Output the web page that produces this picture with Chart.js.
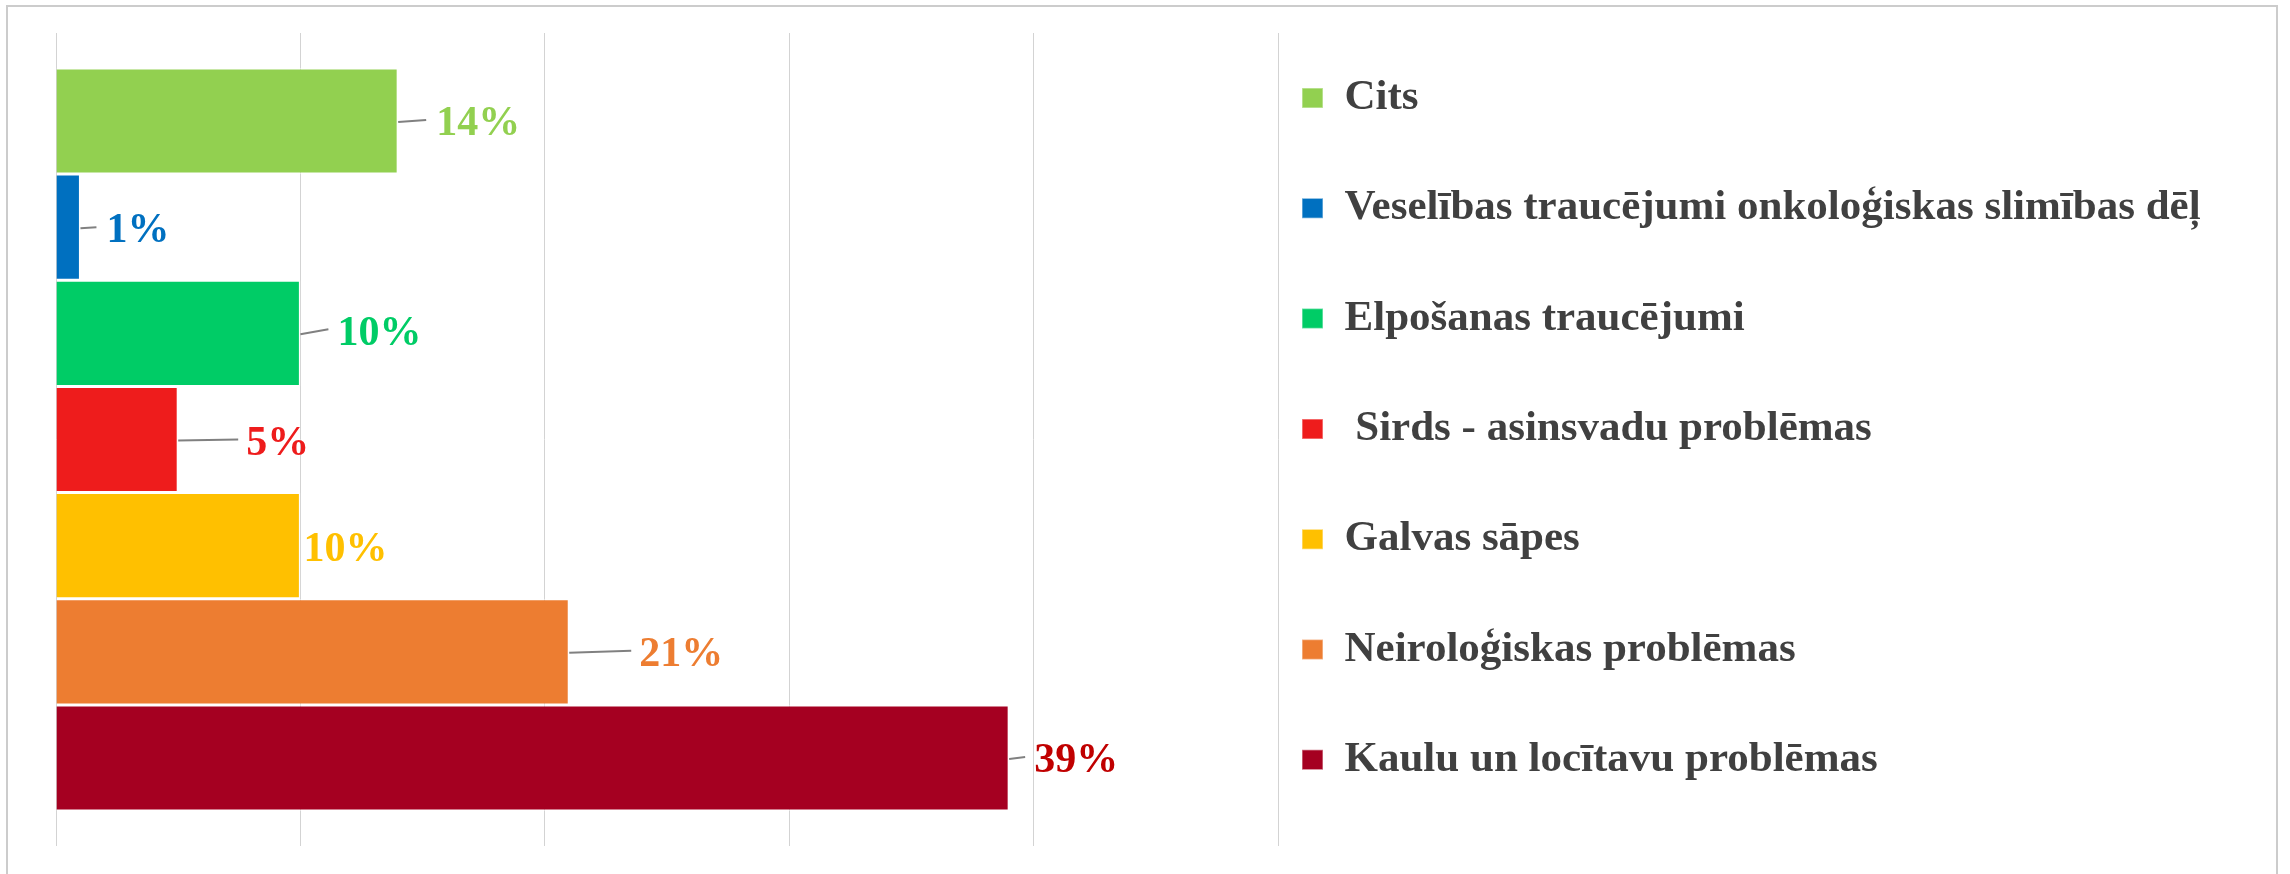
<!DOCTYPE html>
<html>
<head>
<meta charset="utf-8">
<style>
  html, body { margin: 0; padding: 0; background: #ffffff; }
  #wrap { width: 2290px; height: 874px; position: relative; }
  canvas { display: block; }
</style>
<script src="https://cdn.jsdelivr.net/npm/chart.js@4/dist/chart.umd.min.js"></script>
</head>
<body>
<div id="wrap"><canvas id="c" width="2290" height="874"></canvas></div>
<script>
// ---- data ----
const categories = [
  'Cits',
  'Veselības traucējumi onkoloģiskas slimības dēļ',
  'Elpošanas traucējumi',
  ' Sirds - asinsvadu problēmas',
  'Galvas sāpes',
  'Neiroloģiskas problēmas',
  'Kaulu un locītavu problēmas'
];
const values = [14, 1, 10, 5, 10, 21, 39];
const valueLabels = ['14%', '1%', '10%', '5%', '10%', '21%', '39%'];
const axisTicks = [0, 10, 20, 30, 40, 50];

// ---- styles ----
const barColors = ['#92d050', '#0070c0', '#00cc66', '#ee1c1c', '#ffc000', '#ed7d31', '#a50021'];
const labelColors = ['#92d050', '#0070c0', '#00cc66', '#ee1c1c', '#ffc000', '#ed7d31', '#c00000'];
const leaderLengths = [28, 16, 28, 60, 0, 62, 16];
const labelGaps = [10, 10, 9, 8, 3, 8, 9];
const labelDy = [0, 1, -3, 1, 1, 0, 0];

const FONT_FAMILY = "'Liberation Serif', 'Times New Roman', serif";
const LEGEND_SIZE = 43;
const LEGEND_PAD = 24;
const BOX_W = 21;
const PLOT_RIGHT = 1278;

// measure the longest legend text to place the legend
const mctx = document.createElement('canvas').getContext('2d');
mctx.font = 'bold ' + LEGEND_SIZE + 'px ' + FONT_FAMILY;
let maxText = 0;
categories.forEach(t => { maxText = Math.max(maxText, mctx.measureText(t).width); });
const legendWidth = LEGEND_PAD + BOX_W + LEGEND_SIZE / 2 + maxText + 10;
const padRight = Math.max(0, 2290 - PLOT_RIGHT - legendWidth);

const datasets = categories.map((name, i) => ({
  label: name,
  data: [values[i]],
  backgroundColor: barColors[i],
  borderColor: 'rgba(255,255,255,0.45)',
  borderWidth: 1.5,
  categoryPercentage: 0.914,
  barPercentage: 1.0
}));

const framePlugin = {
  id: 'frame',
  beforeDraw(chart) {
    const ctx = chart.ctx;
    ctx.save();
    ctx.fillStyle = '#ffffff';
    ctx.fillRect(0, 0, chart.width, chart.height);
    ctx.strokeStyle = '#cccccc';
    ctx.lineWidth = 2;
    ctx.beginPath();
    ctx.moveTo(7, 880);
    ctx.lineTo(7, 6);
    ctx.lineTo(2277, 6);
    ctx.lineTo(2277, 880);
    ctx.stroke();
    ctx.restore();
  }
};

const valueLabelPlugin = {
  id: 'valueLabels',
  afterDatasetsDraw(chart) {
    const ctx = chart.ctx;
    ctx.save();
    chart.data.datasets.forEach((ds, i) => {
      const meta = chart.getDatasetMeta(i);
      const el = meta.data[0];
      if (!el) return;
      const x0 = el.x;
      const cy = el.y + labelDy[i];
      const len = leaderLengths[i];
      if (len > 0) {
        ctx.strokeStyle = '#808080';
        ctx.lineWidth = 2;
        ctx.beginPath();
        ctx.moveTo(x0, el.y + 1);
        ctx.lineTo(x0 + len, cy - 1);
        ctx.stroke();
      }
      ctx.font = 'bold 42px ' + FONT_FAMILY;
      ctx.fillStyle = labelColors[i];
      ctx.textAlign = 'left';
      ctx.textBaseline = 'alphabetic';
      ctx.fillText(valueLabels[i], x0 + len + labelGaps[i], cy + 0.338 * 42);
    });
    ctx.restore();
  }
};

Chart.defaults.font.family = FONT_FAMILY;

new Chart(document.getElementById('c'), {
  type: 'bar',
  data: { labels: [''], datasets },
  options: {
    indexAxis: 'y',
    responsive: false,
    animation: false,
    devicePixelRatio: 1,
    layout: { padding: { left: 56, top: 33, bottom: 0, right: padRight } },
    scales: {
      x: {
        type: 'linear',
        min: axisTicks[0],
        max: axisTicks[axisTicks.length - 1],
        afterBuildTicks(scale) { scale.ticks = axisTicks.map(v => ({ value: v })); },
        afterFit(scale) { scale.height = 28; },
        ticks: { display: false },
        grid: { color: '#d3d3d3', lineWidth: 1, drawTicks: false },
        border: { display: false }
      },
      y: {
        display: false,
        grid: { display: false }
      }
    },
    plugins: {
      tooltip: { enabled: false },
      legend: {
        position: 'right',
        align: 'start',
        title: { display: true, text: '', font: { size: 19.5, lineHeight: 1 }, padding: 0 },
        labels: {
          boxWidth: BOX_W,
          boxHeight: 20,
          padding: LEGEND_PAD,
          color: '#404040',
          font: { family: FONT_FAMILY, size: LEGEND_SIZE, weight: 'bold', lineHeight: '86.3px' },
          generateLabels(chart) {
            const items = Chart.defaults.plugins.legend.labels.generateLabels(chart);
            return items.map(it => Object.assign({}, it, { text: [it.text] }));
          }
        }
      }
    }
  },
  plugins: [framePlugin, valueLabelPlugin]
});
</script>
</body>
</html>
